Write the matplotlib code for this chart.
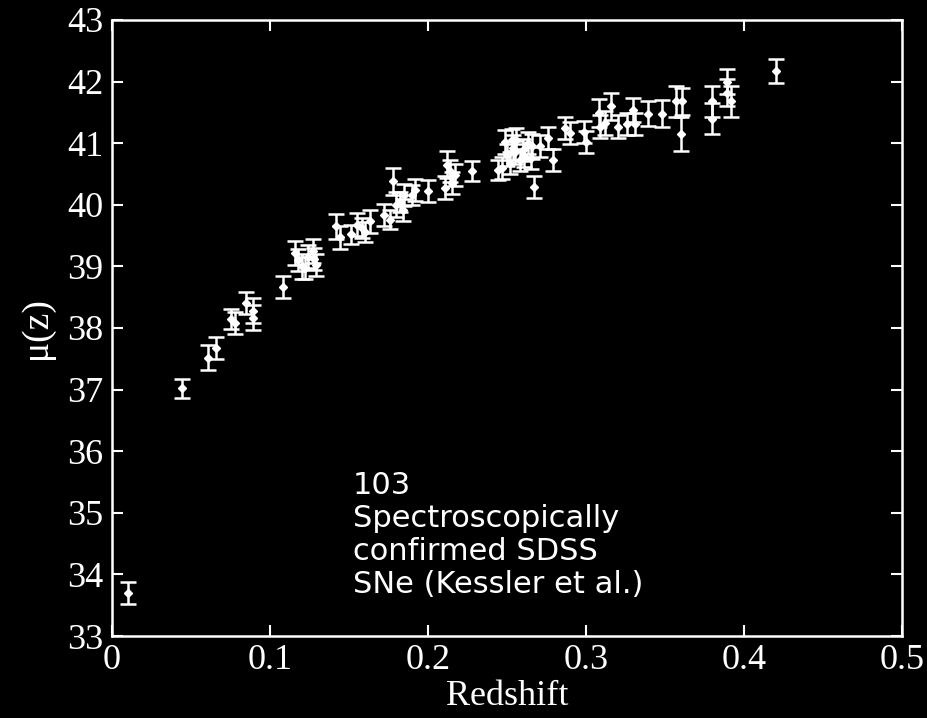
import matplotlib
matplotlib.use("Agg")
import matplotlib.pyplot as plt
import numpy as np

redshift = [0.010, 0.044, 0.061, 0.066, 0.075, 0.078, 0.085, 0.089, 0.089,
            0.108, 0.116, 0.118, 0.120, 0.124, 0.127, 0.129, 0.122, 0.128,
            0.142, 0.144, 0.151, 0.155, 0.160, 0.163, 0.158,
            0.172, 0.176, 0.178, 0.180, 0.184, 0.185, 0.190, 0.192, 0.182,
            0.200, 0.211, 0.212, 0.214, 0.215, 0.217, 0.228,
            0.244, 0.247, 0.249, 0.250, 0.252, 0.254, 0.256, 0.258, 0.260,
            0.263, 0.265, 0.266, 0.255, 0.261, 0.253, 0.267, 0.271, 0.276, 0.279,
            0.287, 0.290, 0.299, 0.300, 0.308, 0.309, 0.312, 0.316, 0.320,
            0.326, 0.330, 0.331, 0.339, 0.348, 0.357, 0.361, 0.360,
            0.380, 0.380, 0.389, 0.389, 0.392, 0.420]
mu = [33.70, 37.02, 37.52, 37.68, 38.15, 38.08, 38.40, 38.28, 38.17,
      38.66, 39.22, 39.10, 39.00, 39.16, 39.25, 39.02, 38.98, 39.12,
      39.65, 39.47, 39.52, 39.68, 39.56, 39.73, 39.62,
      39.84, 39.76, 40.38, 40.00, 39.92, 40.16, 40.16, 40.24, 40.05,
      40.22, 40.28, 40.65, 40.55, 40.36, 40.49, 40.55,
      40.57, 40.60, 41.02, 40.81, 40.68, 40.93, 41.06, 40.73, 40.89,
      41.00, 40.76, 40.95, 40.85, 40.80, 41.05, 40.29, 40.95, 41.08, 40.73,
      41.25, 41.17, 41.18, 41.02, 41.49, 41.27, 41.33, 41.60, 41.27,
      41.31, 41.54, 41.31, 41.48, 41.48, 41.68, 41.68, 41.15,
      41.68, 41.40, 42.00, 41.82, 41.68, 42.17]
mu_err = [0.18, 0.16, 0.20, 0.18, 0.16, 0.18, 0.18, 0.20, 0.20,
          0.18, 0.20, 0.18, 0.20, 0.18, 0.20, 0.18, 0.18, 0.18,
          0.20, 0.18, 0.16, 0.18, 0.16, 0.18, 0.16,
          0.18, 0.16, 0.22, 0.20, 0.18, 0.18, 0.16, 0.18, 0.16,
          0.18, 0.18, 0.22, 0.18, 0.18, 0.18, 0.16,
          0.16, 0.18, 0.20, 0.18, 0.18, 0.20, 0.18, 0.18, 0.18,
          0.18, 0.18, 0.20, 0.18, 0.18, 0.18, 0.18, 0.18, 0.18, 0.18,
          0.18, 0.18, 0.18, 0.18, 0.22, 0.18, 0.20, 0.22, 0.18,
          0.18, 0.20, 0.18, 0.20, 0.22, 0.25, 0.22, 0.28,
          0.25, 0.25, 0.20, 0.22, 0.25, 0.20]

xticks = [0, 0.1, 0.2, 0.3, 0.4, 0.5]
xtick_labels = ["0", "0.1", "0.2", "0.3", "0.4", "0.5"]
yticks = list(range(33, 44))

serif = ["Liberation Serif", "DejaVu Serif"]
plt.rcParams["font.family"] = serif

fig = plt.figure(figsize=(9.28, 7.18), dpi=100, facecolor="black")
ax = fig.add_axes([112/928, 1 - 636/718, (902-112)/928, (636-20)/718])
ax.set_facecolor("black")

ax.errorbar(redshift, mu, yerr=mu_err, fmt="D", color="white", ms=4.5,
            ecolor="white", elinewidth=1.8, capsize=6, capthick=1.8)

ax.set_xlim(0, 0.5)
ax.set_ylim(33, 43)
ax.set_xticks(xticks)
ax.set_xticklabels(xtick_labels)
ax.set_yticks(yticks)
for s in ax.spines.values():
    s.set_color("white")
    s.set_linewidth(1.8)
ax.tick_params(direction="in", length=8, width=1.5, colors="white",
               labelsize=26, top=True, right=True, pad=6)
ax.set_xlabel("Redshift", color="white", fontsize=26, labelpad=2)
ax.set_ylabel("μ(z)", color="white", fontsize=27, labelpad=10)

ax.text(0.305, 0.268,
        "103\nSpectroscopically\nconfirmed SDSS\nSNe (Kessler et al.)",
        transform=ax.transAxes, color="white", fontsize=22,
        family=["DejaVu Sans"], va="top", ha="left",
        linespacing=1.17)

fig.savefig("out.png", dpi=100, facecolor="black")
